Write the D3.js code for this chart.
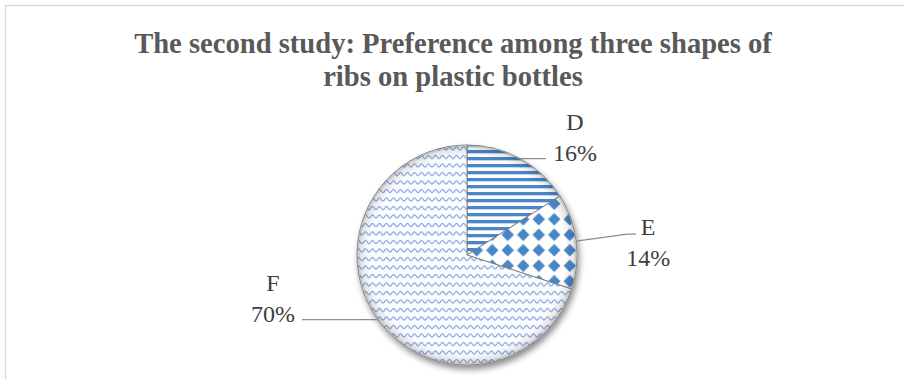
<!DOCTYPE html>
<html>
<head>
<meta charset="utf-8">
<script src="https://cdn.jsdelivr.net/npm/d3@7"></script>
<style>
html,body{margin:0;padding:0;background:#fff;}
svg{display:block;}
</style>
</head>
<body>
<svg id="chart" width="904" height="379"></svg>
<script>
const titleLines = ["The second study: Preference among three shapes of", "ribs on plastic bottles"];
const categories = ["D", "E", "F"];
const values = [16, 14, 70];
const patternIds = ["pD", "pE", "pF"];

const W = 904, H = 379;
const cx = 467, cy = 255, R = 110;
const svg = d3.select("#chart");
const defs = svg.append("defs");

// border
svg.append("rect").attr("x", 5.5).attr("y", 5.5).attr("width", 1000).attr("height", 500)
  .attr("fill", "none").attr("stroke", "#d9d9d9").attr("stroke-width", 1.5);

// patterns
const blue = "#4a86c8";
const pD = defs.append("pattern").attr("id", "pD").attr("patternUnits", "userSpaceOnUse")
  .attr("width", 7).attr("height", 7);
pD.append("rect").attr("width", 7).attr("height", 7).attr("fill", "#fff");
pD.append("rect").attr("y", 0).attr("width", 7).attr("height", 3.3).attr("fill", blue);

const pE = defs.append("pattern").attr("id", "pE").attr("patternUnits", "userSpaceOnUse")
  .attr("width", 15.5).attr("height", 15.5).attr("x", 2).attr("y", 3);
pE.append("rect").attr("width", 15.5).attr("height", 15.5).attr("fill", "#fff");
pE.append("path").attr("d", "M7.75,1.5 L14,7.75 L7.75,14 L1.5,7.75Z").attr("fill", blue);

const pF = defs.append("pattern").attr("id", "pF").attr("patternUnits", "userSpaceOnUse")
  .attr("width", 14).attr("height", 8.5);
pF.append("rect").attr("width", 14).attr("height", 8.5).attr("fill", "#fbfcff");
pF.append("path").attr("d", "M0,5.5 C1.75,5.5 1.75,2.5 3.5,2.5 C5.25,2.5 5.25,5.5 7,5.5 C8.75,5.5 8.75,2.5 10.5,2.5 C12.25,2.5 12.25,5.5 14,5.5")
  .attr("fill", "none").attr("stroke", "#7b9bd4").attr("stroke-width", 1.1);

// shadow filter
const f = defs.append("filter").attr("id", "shadow").attr("x", "-20%").attr("y", "-20%").attr("width", "140%").attr("height", "140%");
f.append("feGaussianBlur").attr("in", "SourceAlpha").attr("stdDeviation", 3).attr("result", "b");
f.append("feOffset").attr("in", "b").attr("dx", 2).attr("dy", 4).attr("result", "o");
f.append("feComponentTransfer").attr("in", "o").attr("result", "o2")
  .append("feFuncA").attr("type", "linear").attr("slope", 0.45);
const fm = f.append("feMerge");
fm.append("feMergeNode").attr("in", "o2");
fm.append("feMergeNode").attr("in", "SourceGraphic");

// bevel gradient (shared across slices)
const rg = defs.append("radialGradient").attr("id", "bevel")
  .attr("gradientUnits", "userSpaceOnUse").attr("cx", 0).attr("cy", 0).attr("r", R);
rg.append("stop").attr("offset", "90%").attr("stop-color", "#000").attr("stop-opacity", 0);
rg.append("stop").attr("offset", "97%").attr("stop-color", "#000").attr("stop-opacity", 0.1);
rg.append("stop").attr("offset", "100%").attr("stop-color", "#000").attr("stop-opacity", 0.3);

// title
svg.append("g").selectAll("text").data(titleLines).join("text")
  .attr("x", 453).attr("y", (d, i) => 53 + i * 33)
  .attr("text-anchor", "middle")
  .attr("font-family", "'Liberation Serif','Times New Roman',serif")
  .attr("font-weight", "bold").attr("font-size", 28.6).attr("fill", "#595959")
  .text(d => d);

// pie
const data = categories.map((c, i) => ({ cat: c, value: values[i], pat: patternIds[i] }));
const pie = d3.pie().sort(null).value(d => d.value);
const arcs = pie(data);
const arc = d3.arc().innerRadius(0).outerRadius(R);

const g = svg.append("g").attr("transform", `translate(${cx},${cy})`);
const pg = g.append("g").attr("filter", "url(#shadow)");
pg.selectAll("path.slice").data(arcs).join("path").attr("class", "slice")
  .attr("d", arc).attr("fill", d => `url(#${d.data.pat})`)
  .attr("stroke", "#7a7a7a").attr("stroke-width", 0.9);
g.selectAll("path.bev").data(arcs).join("path").attr("class", "bev")
  .attr("d", arc).attr("fill", "url(#bevel)");
g.append("circle").attr("r", R - 0.5).attr("fill", "none").attr("stroke", "#fff").attr("stroke-opacity", 0.35).attr("stroke-width", 1);

// labels (offsets relative to the slice's mid-angle point on the rim)
const labelLayout = {
  D: { dx: 55, dy: -29, line: (p) => [p, [p[0] + 26, p[1]]] },
  E: { dx: 72, dy: -6, line: (p) => [p, [p[0] + 51, p[1] - 7], [p[0] + 60, p[1] - 7]] },
  F: { dx: -105, dy: -29, line: (p) => [p, [p[0] - 76, p[1]]] }
};
const lineGen = d3.line();
const total = d3.sum(values);
arcs.forEach(a => {
  const mid = (a.startAngle + a.endAngle) / 2;
  const p = [R * Math.sin(mid), -R * Math.cos(mid)];
  const L = labelLayout[a.data.cat];
  g.append("path").attr("d", lineGen(L.line(p))).attr("fill", "none")
    .attr("stroke", "#8c8c8c").attr("stroke-width", 1.2);
  const t = g.append("text").attr("text-anchor", "middle")
    .attr("font-family", "'Liberation Serif','Times New Roman',serif")
    .attr("font-size", 24).attr("fill", "#404040");
  t.append("tspan").attr("x", p[0] + L.dx).attr("y", p[1] + L.dy).text(a.data.cat);
  const pct = Math.round(a.value / total * 100) + "%";
  t.append("tspan").attr("x", p[0] + L.dx).attr("y", p[1] + L.dy + 31).text(pct);
});
</script>
</body>
</html>
